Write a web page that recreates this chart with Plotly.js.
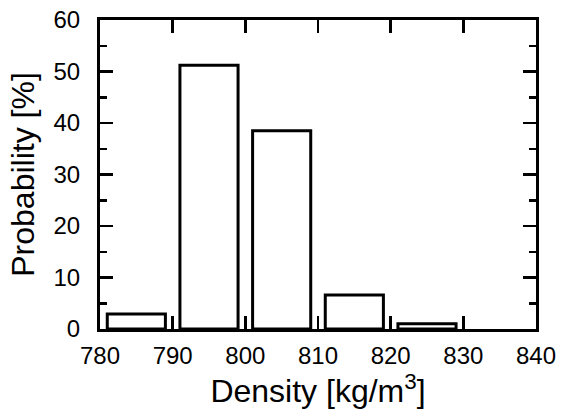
<!DOCTYPE html>
<html>
<head>
<meta charset="utf-8">
<script src="https://cdn.plot.ly/plotly-3.0.1.min.js"></script>
<style>html,body{margin:0;padding:0;background:#fff;}#chart{width:561px;height:416px;}</style>
</head>
<body>
<div id="chart"></div>
<script>
var binCenters = [785, 795, 805, 815, 825];
var probabilities = [2.9, 51.2, 38.5, 6.6, 1.0];
var xTickVals = [780, 790, 800, 810, 820, 830, 840];
var yTickVals = [0, 10, 20, 30, 40, 50, 60];

var trace = {
  type: 'bar',
  x: binCenters,
  y: probabilities,
  width: 8,
  marker: {color: '#ffffff', line: {color: '#000000', width: 3}},
  hoverinfo: 'none'
};

var font = {family: 'Liberation Sans, Arial, sans-serif', color: '#000'};

var layout = {
  width: 561, height: 416,
  margin: {l: 100, r: 25, t: 20, b: 87},
  paper_bgcolor: '#fff', plot_bgcolor: '#fff',
  showlegend: false,
  font: font,
  xaxis: {
    range: [780, 840],
    tickvals: xTickVals,
    ticks: 'inside', ticklen: 13, tickwidth: 2.5, tickcolor: '#000',
    showline: true, linewidth: 3, linecolor: '#000', mirror: 'ticks',
    showgrid: false, zeroline: false,
    tickfont: {family: font.family, size: 24, color: '#000'},
    ticklabelstandoff: 3,
    title: {text: 'Density [kg/m<sup>3</sup>]', font: {family: font.family, size: 32, color: '#000'}, standoff: 4}
  },
  yaxis: {
    range: [0, 60],
    tickvals: yTickVals,
    ticks: 'inside', ticklen: 13, tickwidth: 2.5, tickcolor: '#000',
    minor: {dtick: 5, tick0: 0, ticks: 'inside', ticklen: 7, tickwidth: 2.5, tickcolor: '#000'},
    showline: true, linewidth: 3, linecolor: '#000', mirror: 'ticks',
    showgrid: false, zeroline: false,
    tickfont: {family: font.family, size: 24, color: '#000'},
    ticklabelstandoff: 12,
    title: {text: 'Probability [%]', font: {family: font.family, size: 32, color: '#000'}, standoff: 10}
  }
};

Plotly.newPlot('chart', [trace], layout, {displayModeBar: false, staticPlot: true});
</script>
</body>
</html>
